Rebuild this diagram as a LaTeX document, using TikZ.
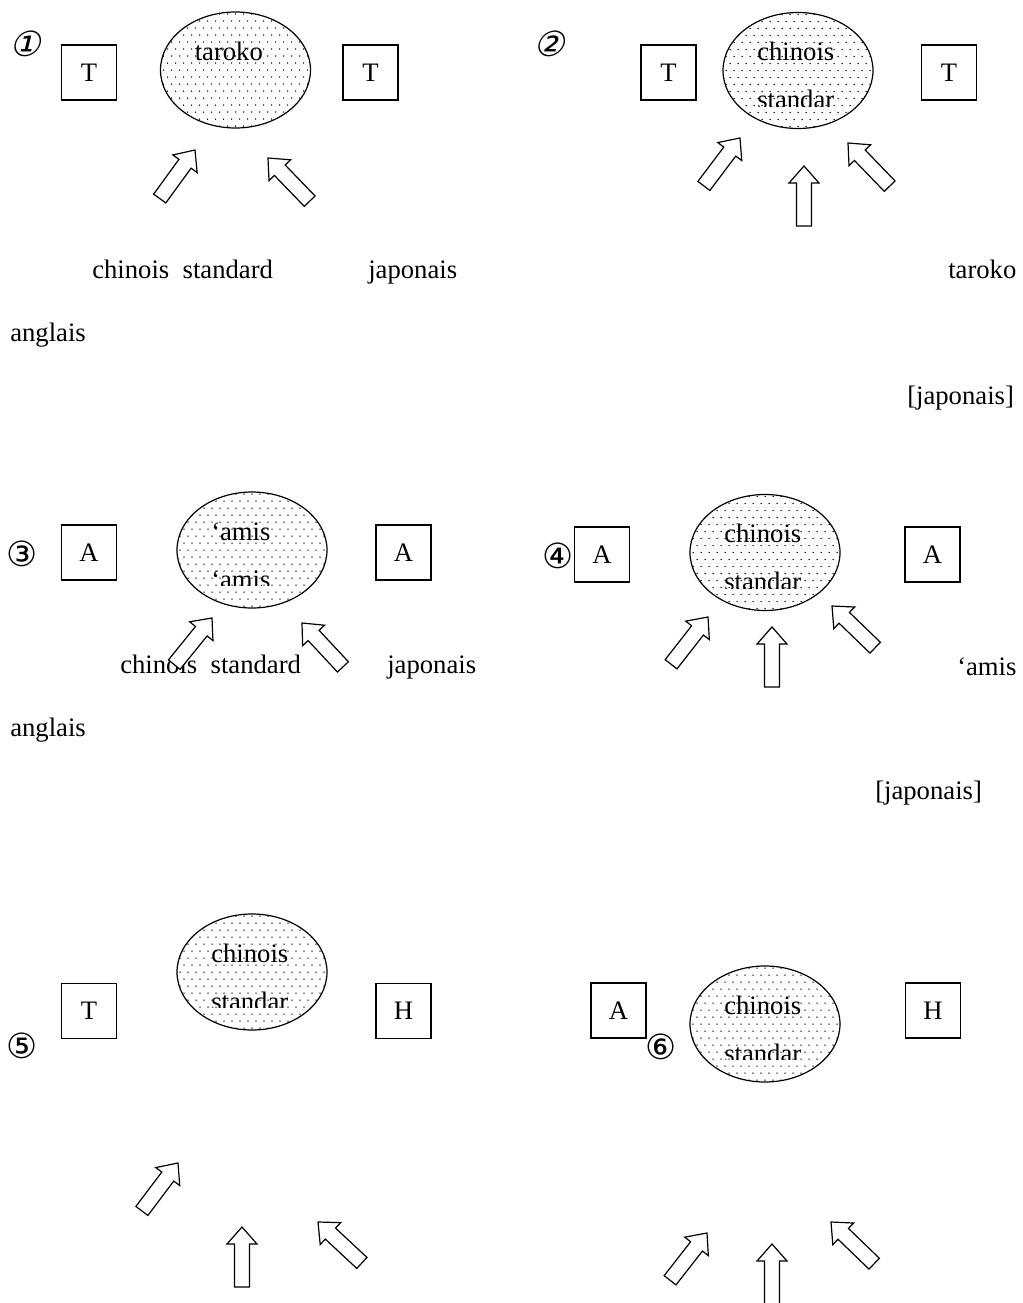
\documentclass[tikz,border=0pt]{standalone}
\usepackage{fontspec}
\setmainfont{Liberation Serif}
\newfontfamily\circfont{DejaVu Sans}
\newfontfamily\circslant[FakeSlant=0.25]{DejaVu Sans}
\usetikzlibrary{shapes.geometric}

\tikzset{
  lbox/.style={draw, line width=0.9pt, minimum width=41.25pt, minimum height=41.25pt,
    inner sep=0pt, font=\fontsize{20}{24}\selectfont},
  oval/.style={draw, ellipse, line width=0.9pt, minimum width=112.5pt,
    minimum height=87pt, inner sep=0pt},
  lbl/.style={anchor=base west, inner sep=0pt, font=\fontsize{20}{24}\selectfont},
  num/.style={inner sep=0pt, font=\circfont\fontsize{26}{30}\selectfont},
  numsl/.style={inner sep=0pt, font=\circslant\fontsize{26}{30}\selectfont},
  barrow/.style={draw, fill=white, line width=0.9pt, line join=miter},
}

% dotted ellipse with clipped text
\newcommand\dotell[5]{%
  \node[oval] (#1) at (#2,#3) {};
  \begin{scope}
    \clip (#2,#3) ellipse [x radius=75, y radius=58];
    \foreach \j in {-9,...,9} {
      \pgfmathsetmacro\off{mod(abs(\j),2)*4}
      \foreach \i in {-10,...,10} {
        \fill ({#2+\i*8+\off},{#3+\j*7}) circle [radius=0.75];
      }
    }
    \clip ({#2-80},{#3-70}) rectangle ({#2+80},{#3+35.5});
    \node[lbl] (#1t1) at ({#2-41},{#3-10}) {#4};
    \node[lbl] (#1t2) at ({#2-41},{#3+38}) {#5};
  \end{scope}
}

% block arrow: tip x, tip y, angle
\newcommand\blockarr[3]{%
  \draw[barrow, shift={(#1,#2)}, rotate=#3]
    (0,0) -- (-17,15) -- (-17,7.5) -- (-60,7.5) -- (-60,-7.5)
    -- (-17,-7.5) -- (-17,-15) -- cycle;
}

\begin{document}
\begin{tikzpicture}[x=0.75pt, y=-0.75pt]
\useasboundingbox (0,0) rectangle (1022,1303);

% ---------------- Panel 1 ----------------
\node[numsl] (n1) at (25,44) {①};
\node[lbox] (b1l) at (89,72.5) {T};
\node[lbox] (b1r) at (370.5,72.5) {T};
\dotell{e1}{235.5}{70}{taroko}{}

% ---------------- Panel 2 ----------------
\node[numsl] (n2) at (549,44) {②};
\node[lbox] (b2l) at (668.5,72.5) {T};
\node[lbox] (b2r) at (949,72.5) {T};
\dotell{e2}{798}{70.5}{chinois}{standar}

% row 1 labels
\node[lbl] (l1a) at (92,278) {chinois\ \ standard};
\node[lbl] (l1b) at (368,278) {japonais};
\node[lbl] (l1c) at (948,278) {taroko};
\node[lbl] (l1d) at (10,341) {anglais};
\node[lbl] (l1e) at (907,404) {[japonais]};

\blockarr{195}{150}{54}
\blockarr{268}{158}{134}
\blockarr{740}{138}{53}
\blockarr{804}{166}{90}
\blockarr{848}{143}{134}

% ---------------- Panel 3 ----------------
\node[num] (n3) at (22,554) {③};
\node[lbox] (b3l) at (89,552.5) {A};
\node[lbox] (b3r) at (403.5,552.5) {A};
\dotell{e3}{252}{550}{‘amis}{‘amis}

% ---------------- Panel 4 ----------------
\node[num] (n4) at (558,556) {④};
\node[lbox] (b4l) at (602,554.5) {A};
\node[lbox] (b4r) at (932.5,554.5) {A};
\dotell{e4}{765}{552.5}{chinois}{standar}

% row 3 labels
\node[lbl] (l3a) at (120,673) {chinois\ \ standard};
\node[lbl] (l3b) at (387,673) {japonais};
\node[lbl] (l3c) at (957,675) {‘amis};
\node[lbl] (l3d) at (10,736) {anglais};
\node[lbl] (l3e) at (875,799) {[japonais]};

\blockarr{212}{618}{51}
\blockarr{302}{623}{133}
\blockarr{708}{617}{52}
\blockarr{772}{627}{90}
\blockarr{832}{606}{136}

% ---------------- Panel 5 ----------------
\dotell{e5}{252}{972}{chinois}{standar}
\node[lbox] (b5l) at (89,1011) {T};
\node[lbox] (b5r) at (403.5,1011) {H};
\node[num] (n5) at (22,1046) {⑤};

\blockarr{178}{1163}{53}
\blockarr{242}{1227}{90}
\blockarr{318}{1222}{137}

% ---------------- Panel 6 ----------------
\node[lbox] (b6l) at (618.5,1010.5) {A};
\node[lbox] (b6r) at (933,1010.5) {H};
\node[num] (n6) at (661,1047) {⑥};
\dotell{e6}{765}{1024}{chinois}{standar}

\blockarr{707}{1233}{52}
\blockarr{772}{1244}{90}
\blockarr{831}{1222}{136}
\end{tikzpicture}
\end{document}
